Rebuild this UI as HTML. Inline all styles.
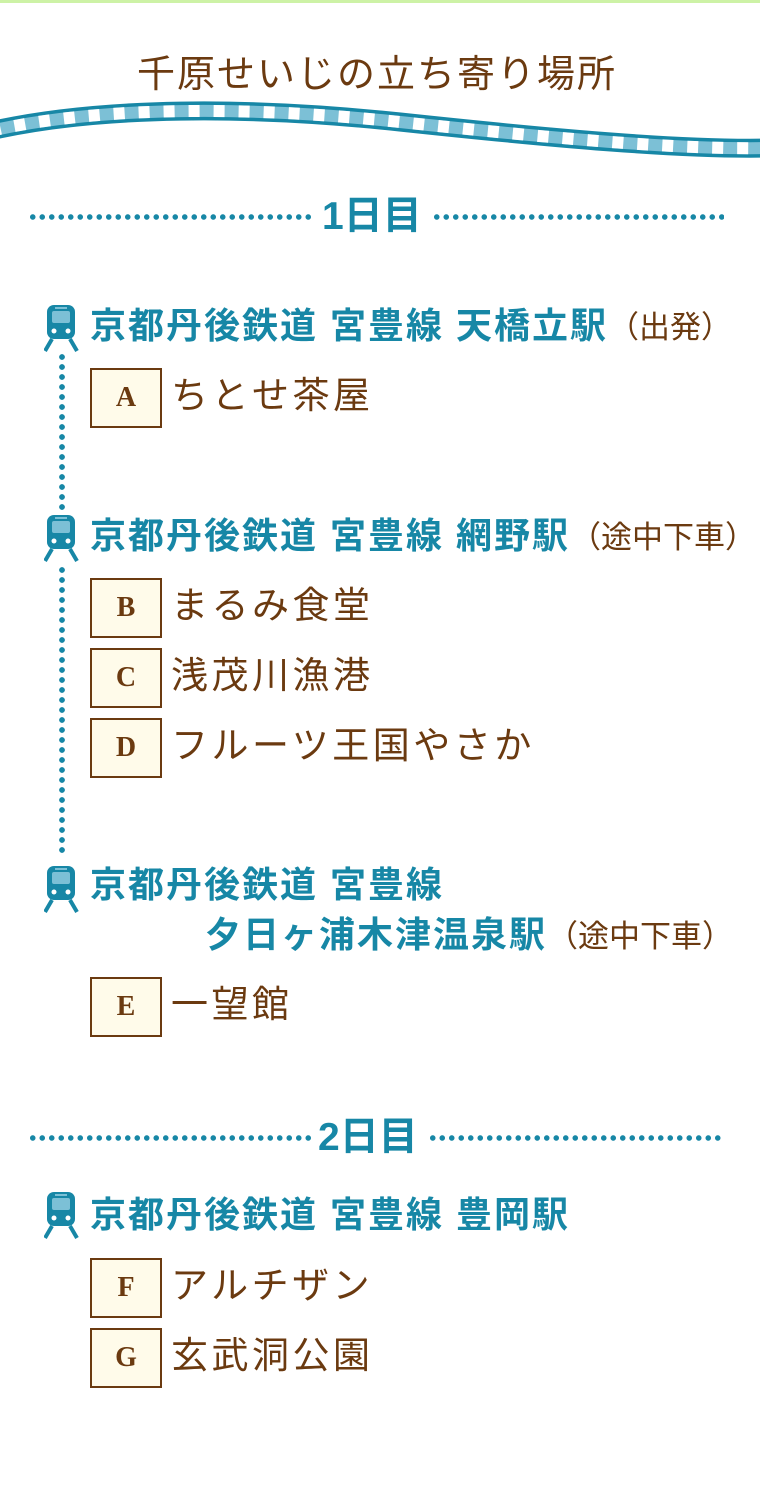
<!DOCTYPE html>
<html><head><meta charset="utf-8">
<style>
body{margin:0;width:760px;height:1500px;background:#fff;position:relative;overflow:hidden;font-family:"Liberation Sans","Noto Sans CJK JP",sans-serif;}
.a{position:absolute;white-space:nowrap;}
.st{color:#1787a6;font-weight:bold;font-size:36px;letter-spacing:2px;line-height:40px;}
.st span{color:#6b3a10;font-weight:normal;font-size:31px;letter-spacing:0;}
.box{position:absolute;left:90px;width:68px;height:56px;border:2px solid #6b3a10;background:#fffbea;color:#6b3a10;font-family:"Liberation Serif",serif;font-weight:bold;font-size:28px;text-align:center;line-height:56px;}
.it{color:#6b3a10;font-size:37px;letter-spacing:3.5px;line-height:44px;}
.vd{position:absolute;left:59px;width:6px;background:radial-gradient(circle,#1787a6 2.7px,transparent 3px) 0 0/6px 10px repeat-y;}
.hd{position:absolute;height:6px;top:214px;background:radial-gradient(circle,#1787a6 2.5px,transparent 3px) 0 0/9.5px 6px repeat-x;}
.day{color:#1787a6;font-size:39px;line-height:42px;font-weight:bold;}
</style></head><body>
<div class="a" style="left:0;top:0;width:760px;height:3px;background:#cdf2a6"></div>
<div class="a" style="left:137px;top:52px;color:#6b3a10;font-size:38px;letter-spacing:2px;line-height:46px">千原せいじの立ち寄り場所</div>
<svg class="a" style="left:0;top:0" width="760" height="170">
<path d="M-10,131 C100,106 250,106 400,122 S680,150 770,148" fill="none" stroke="#1787a6" stroke-width="19"/>
<path d="M-10,131 C100,106 250,106 400,122 S680,150 770,148" fill="none" stroke="#7cc0d6" stroke-width="12"/>
<path d="M-10,131 C100,106 250,106 400,122 S680,150 770,148" fill="none" stroke="#fff" stroke-width="12" stroke-dasharray="11 14"/>
</svg>
<svg width="0" height="0" style="position:absolute"><defs>
<g id="tr"><rect x="3" y="0" width="28" height="34" rx="7" fill="#1787a6"/><rect x="8" y="6" width="18" height="12" rx="2" fill="#7cc0d6"/><rect x="11" y="2" width="12" height="2" fill="#7cc0d6"/><circle cx="10" cy="26" r="2.5" fill="#fff"/><circle cx="24" cy="26" r="2.5" fill="#fff"/><path d="M8,34 L1,46 M26,34 L33,46" stroke="#1787a6" stroke-width="4"/></g>
</defs></svg>
<div class="hd" style="left:28px;width:285px"></div>
<div class="a day" style="left:322px;top:196px">1日目</div>
<div class="hd" style="left:432px;width:292px"></div>

<svg class="a" style="left:44px;top:305px" width="36" height="48"><use href="#tr"/></svg>
<div class="a st" style="left:90px;top:306px">京都丹後鉄道 宮豊線 天橋立駅<span>（出発）</span></div>
<div class="vd" style="top:352px;height:160px"></div>
<div class="box" style="top:368px">A</div>
<div class="a it" style="left:171px;top:374px">ちとせ茶屋</div>

<svg class="a" style="left:44px;top:515px" width="36" height="48"><use href="#tr"/></svg>
<div class="a st" style="left:90px;top:516px">京都丹後鉄道 宮豊線 網野駅<span>（途中下車）</span></div>
<div class="vd" style="top:565px;height:292px"></div>
<div class="box" style="top:578px">B</div>
<div class="a it" style="left:171px;top:584px">まるみ食堂</div>
<div class="box" style="top:648px">C</div>
<div class="a it" style="left:171px;top:654px">浅茂川漁港</div>
<div class="box" style="top:718px">D</div>
<div class="a it" style="left:171px;top:724px">フルーツ王国やさか</div>

<svg class="a" style="left:44px;top:866px" width="36" height="48"><use href="#tr"/></svg>
<div class="a st" style="left:90px;top:865px">京都丹後鉄道 宮豊線</div>
<div class="a st" style="left:205px;top:915px">夕日ヶ浦木津温泉駅<span>（途中下車）</span></div>
<div class="box" style="top:977px">E</div>
<div class="a it" style="left:171px;top:983px">一望館</div>

<div class="hd" style="left:28px;width:285px;top:1135px"></div>
<div class="a day" style="left:318px;top:1117px">2日目</div>
<div class="hd" style="left:428px;width:296px;top:1135px"></div>

<svg class="a" style="left:44px;top:1192px" width="36" height="48"><use href="#tr"/></svg>
<div class="a st" style="left:90px;top:1195px">京都丹後鉄道 宮豊線 豊岡駅</div>
<div class="box" style="top:1258px">F</div>
<div class="a it" style="left:171px;top:1264px">アルチザン</div>
<div class="box" style="top:1328px">G</div>
<div class="a it" style="left:171px;top:1334px">玄武洞公園</div>
</body></html>
